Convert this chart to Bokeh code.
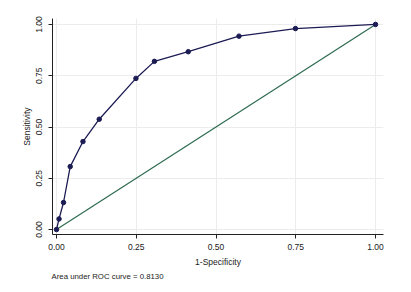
from bokeh.plotting import figure
from bokeh.models import Range1d, FixedTicker, Title
from bokeh.embed import file_html
from bokeh.resources import INLINE

# ROC points
fpr = [0.0, 0.008, 0.022, 0.043, 0.083, 0.134, 0.249, 0.307, 0.413, 0.572, 0.749, 1.0]
tpr = [0.0, 0.052, 0.132, 0.307, 0.429, 0.538, 0.737, 0.820, 0.867, 0.943, 0.980, 1.0]
ref_x = [0.0, 1.0]
ref_y = [0.0, 1.0]
ticks = [0.0, 0.25, 0.5, 0.75, 1.0]
tick_labels = ["0.00", "0.25", "0.50", "0.75", "1.00"]
note = "Area under ROC curve = 0.8130"

FONT = "Liberation Sans"
NAVY = "#1c1c54"
GREEN = "#2d6b4f"

p = figure(width=411, height=292, output_backend="svg", toolbar_location=None,
           x_range=Range1d(-0.0125, 1.025), y_range=Range1d(-0.024, 1.029),
           min_border_left=52, min_border_right=28, min_border_top=18, min_border_bottom=58)
p.outline_line_color = None
p.background_fill_color = "white"
p.border_fill_color = "white"

p.line(ref_x, ref_y, line_color=GREEN, line_width=1.2)
p.line(fpr, tpr, line_color=NAVY, line_width=1.3)
p.scatter(fpr, tpr, size=4.5, fill_color=NAVY, line_color=NAVY)

labels = dict(zip(ticks, tick_labels))
for ax in (p.xaxis[0], p.yaxis[0]):
    ax.ticker = FixedTicker(ticks=ticks)
    ax.major_label_overrides = labels
    ax.minor_tick_line_color = None
    ax.major_tick_in = 0
    ax.major_tick_out = 4
    ax.major_label_standoff = 5
    ax.axis_label_standoff = 4
    ax.major_label_text_font = FONT
    ax.major_label_text_font_size = "8.5px"
    ax.major_label_text_color = "#222222"
    ax.axis_label_text_font = FONT
    ax.axis_label_text_font_size = "8.5px"
    ax.axis_label_text_font_style = "normal"
    ax.axis_label_text_color = "#222222"
    ax.axis_line_color = "#222222"
    ax.major_tick_line_color = "#222222"

p.yaxis.major_label_standoff = 6
p.yaxis.axis_label_standoff = 2
p.xaxis.axis_label = "1-Specificity"
p.yaxis.axis_label = "Sensitivity"
p.yaxis.major_label_orientation = "vertical"

for g in (p.xgrid[0], p.ygrid[0]):
    g.ticker = FixedTicker(ticks=ticks)
    g.grid_line_color = "#ececec"
    g.grid_line_width = 1

p.add_layout(Title(text=note, align="left", offset=-1, text_font=FONT, text_font_size="7.8px",
                   text_font_style="normal", text_color="#222222", standoff=0,
                   text_line_height=0.8), "below")

open("out.html", "w").write(file_html(p, INLINE))
